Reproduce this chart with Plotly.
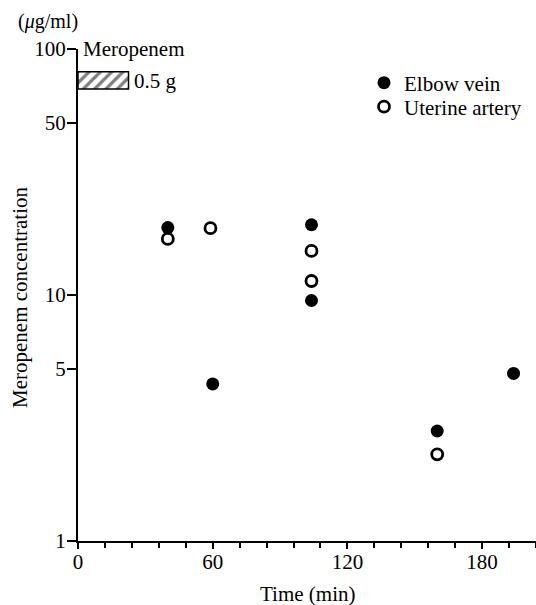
import plotly.graph_objects as go

# Data
elbow_time = [40, 60, 104, 104, 160, 194]
elbow_conc = [18.8, 4.35, 19.3, 9.5, 2.8, 4.8]
uterine_time = [40, 59, 104, 104, 160]
uterine_conc = [16.9, 18.7, 15.1, 11.4, 2.25]
infusion_time = [0, 22.5]
infusion_conc = [68.8, 80.9]
x_ticks = [0, 60, 120, 180]
y_ticks = [1, 5, 10, 50, 100]

FONT = "Liberation Serif"
FS = 21
W, H = 536, 605
ML, MR, MT, MB = 78, 0, 49, 64
PW, PH = W - ML - MR, H - MT - MB


def px(x):
    return (x - ML) / PW


def py(y):
    return 1 - (y - MT) / PH


fig = go.Figure()

# infusion bar (hatched)
bx = [infusion_time[0], infusion_time[1], infusion_time[1], infusion_time[0], infusion_time[0]]
by = [infusion_conc[0], infusion_conc[0], infusion_conc[1], infusion_conc[1], infusion_conc[0]]
fig.add_trace(go.Scatter(
    x=bx, y=by, mode="lines", fill="toself", fillcolor="white",
    fillpattern=dict(shape="/", fgcolor="black", bgcolor="white", size=8, solidity=0.4),
    line=dict(color="black", width=1.5), showlegend=False, hoverinfo="skip"))

fig.add_trace(go.Scatter(
    x=elbow_time, y=elbow_conc, mode="markers", name="Elbow vein", legend="legend",
    marker=dict(symbol="circle", size=13, color="black", line=dict(color="black", width=0))))
fig.add_trace(go.Scatter(
    x=uterine_time, y=uterine_conc, mode="markers", name="Uterine artery", legend="legend2",
    marker=dict(symbol="circle-open", size=11, color="black", line=dict(color="black", width=2.8))))

leg_common = dict(xanchor="left", yanchor="middle", bgcolor="rgba(0,0,0,0)",
                  font=dict(size=FS, family=FONT, color="black"), itemsizing="trace")

fig.update_layout(
    width=W, height=H,
    margin=dict(l=ML, r=MR, t=MT, b=MB),
    paper_bgcolor="white", plot_bgcolor="white",
    font=dict(family=FONT, size=FS, color="black"),
    showlegend=True,
    legend=dict(x=px(364), y=py(83), **leg_common),
    legend2=dict(x=px(364), y=py(107), **leg_common),
    xaxis=dict(range=[0, 204], showline=True, linecolor="black", linewidth=2,
               showgrid=False, zeroline=False, automargin=False,
               tickmode="array", tickvals=x_ticks, ticktext=[str(v) for v in x_ticks],
               ticks="outside", ticklen=6, tickwidth=2, tickcolor="black",
               ticklabelstandoff=-5,
               minor=dict(dtick=12, ticks="outside", ticklen=5, tickwidth=2, tickcolor="black"),
               tickfont=dict(size=FS)),
    yaxis=dict(type="log", range=[0, 2], showline=True, linecolor="black", linewidth=2,
               showgrid=False, zeroline=False, automargin=False,
               tickmode="array", tickvals=y_ticks, ticktext=[str(v) for v in y_ticks],
               ticks="outside", ticklen=9, tickwidth=2, tickcolor="black",
               ticklabelstandoff=-3,
               tickfont=dict(size=FS)),
    annotations=[
        dict(text="Meropenem", x=1.5, y=2, xref="x", yref="y", showarrow=False,
             xanchor="left", yanchor="middle", font=dict(size=FS)),
        dict(text="0.5 g", x=px(132), y=py(81), xref="paper", yref="paper", showarrow=False,
             xanchor="left", yanchor="middle", font=dict(size=FS)),
        dict(text="(<i>μ</i>g/ml)", x=px(16), y=py(22), xref="paper", yref="paper", showarrow=False,
             xanchor="left", yanchor="middle", font=dict(size=FS - 1)),
        dict(text="Time (min)", x=0.5, y=py(594), xref="paper", yref="paper", showarrow=False,
             xanchor="center", yanchor="middle", font=dict(size=FS)),
        dict(text="Meropenem concentration", x=px(20), y=py(298), xref="paper", yref="paper",
             showarrow=False, textangle=-90, xanchor="center", yanchor="middle",
             font=dict(size=FS)),
    ],
)

fig.write_html(
    "out.html",
    config={"displayModeBar": False},
    post_script="document.body.style.margin='0';document.body.style.padding='0';"
                "document.body.style.overflow='hidden';",
)
